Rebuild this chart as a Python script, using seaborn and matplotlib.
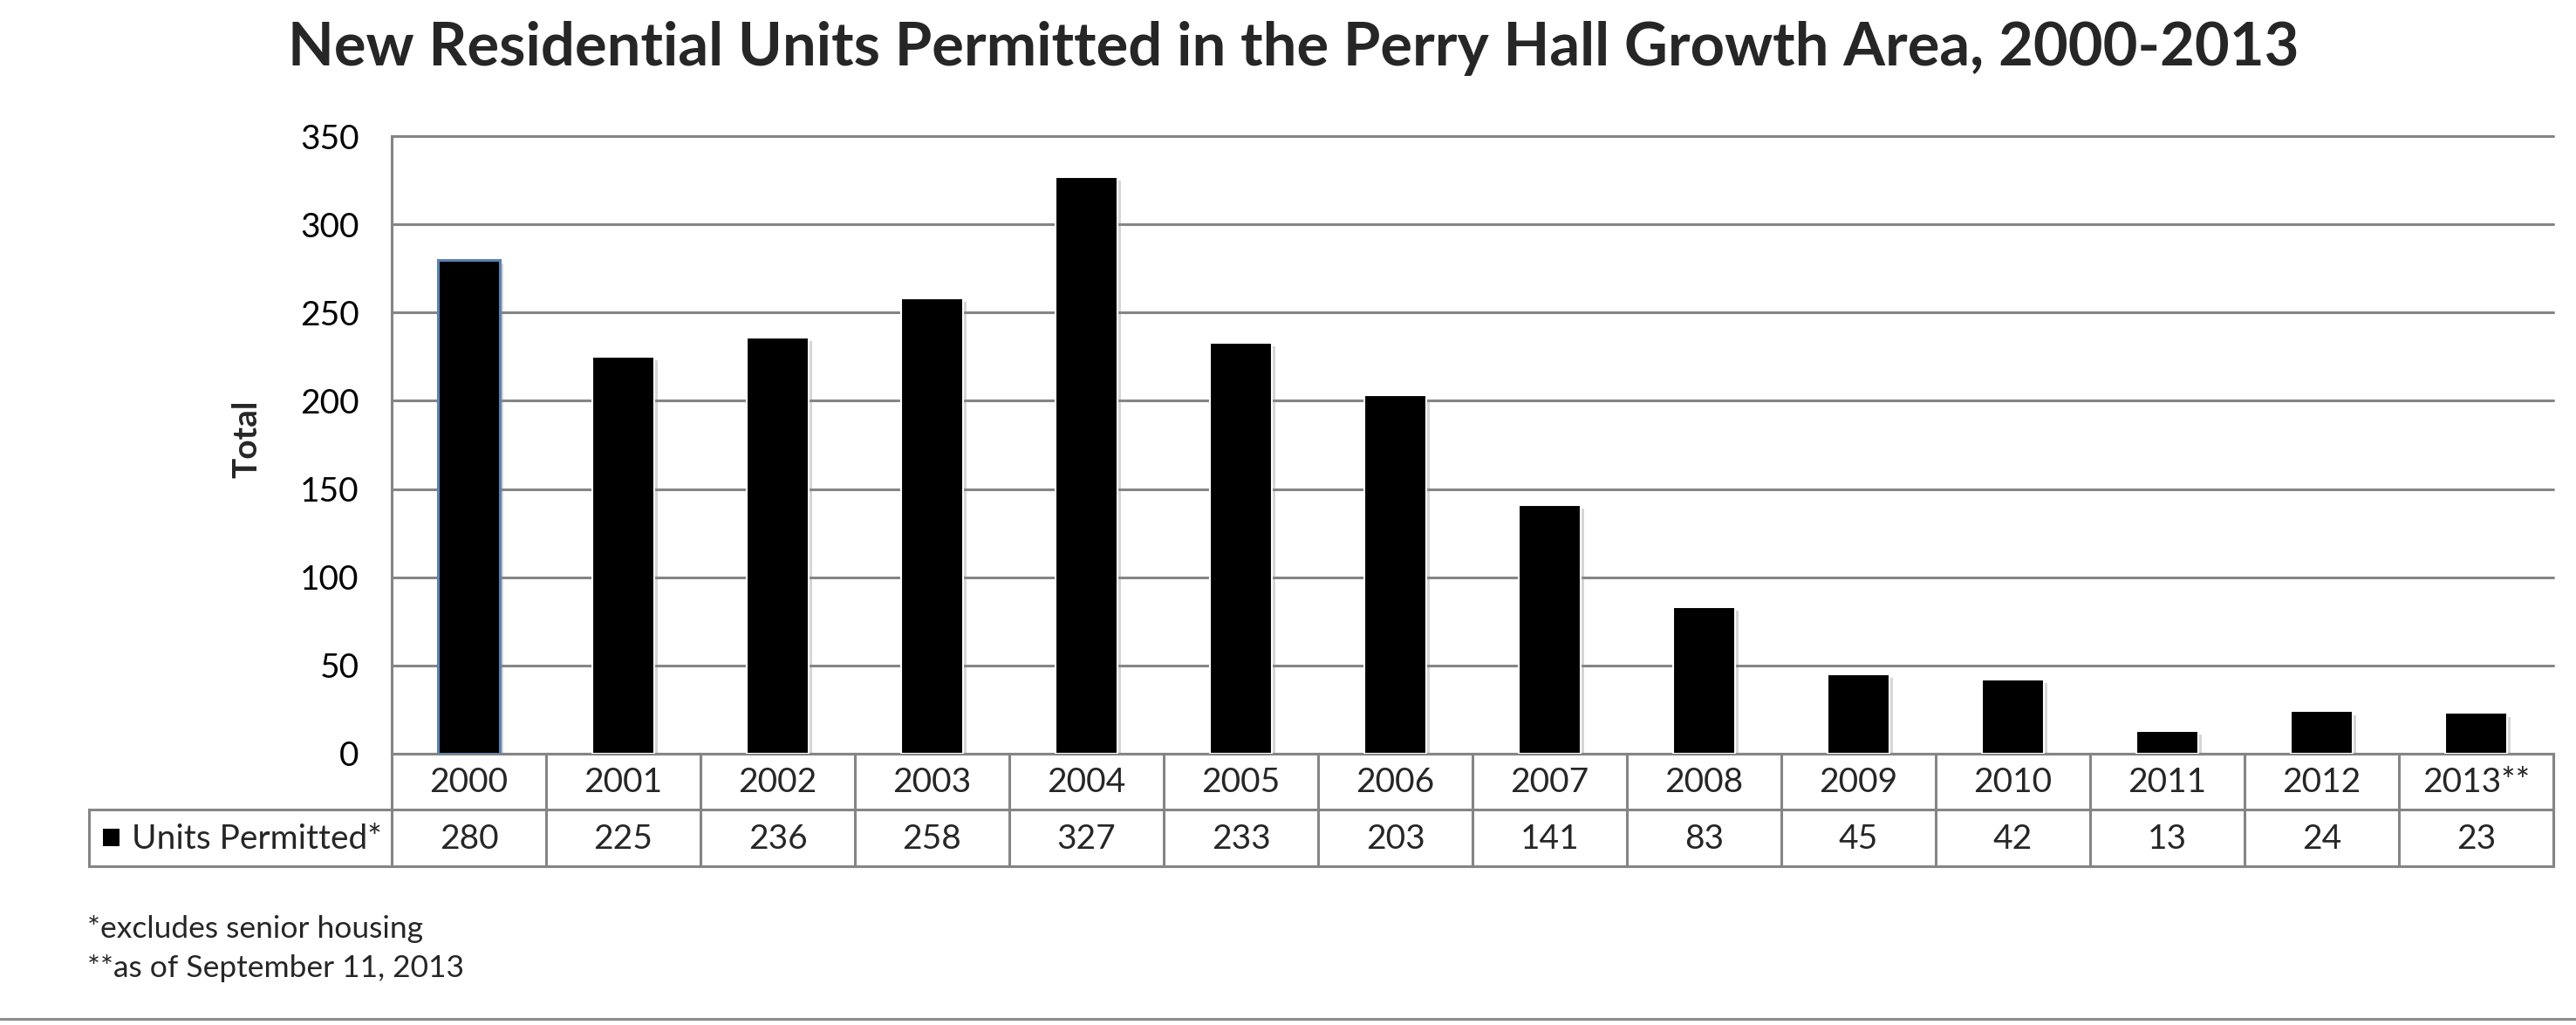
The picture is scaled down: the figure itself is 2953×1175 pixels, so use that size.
import matplotlib
matplotlib.use("Agg")
import matplotlib.pyplot as plt
import matplotlib.patheffects as pe
from matplotlib.patches import Rectangle
from matplotlib.lines import Line2D
import seaborn as sns
import pandas as pd

# ---- data ----
years = ["2000", "2001", "2002", "2003", "2004", "2005", "2006",
         "2007", "2008", "2009", "2010", "2011", "2012", "2013**"]
units = [280, 225, 236, 258, 327, 233, 203, 141, 83, 45, 42, 13, 24, 23]
series_name = "Units Permitted*"
y_ticks = [0, 50, 100, 150, 200, 250, 300, 350]
title = "New Residential Units Permitted in the Perry Hall Growth Area, 2000-2013"
y_label = "Total"
footnotes = ["*excludes senior housing", "**as of September 11, 2013"]

df = pd.DataFrame({"year": years, "units": units})

sns.set_style("white")
plt.rcParams["font.family"] = ["Lato", "DejaVu Sans"]

W, H = 2953, 1175
DPI = 100
fig = plt.figure(figsize=(W / DPI, H / DPI), dpi=DPI)

# axes placement in pixels
ax_l, ax_r, ax_t, ax_b = 449, 2927, 156, 864
ax = fig.add_axes([ax_l / W, 1 - ax_b / H, (ax_r - ax_l) / W, (ax_b - ax_t) / H])

GRID = "#858585"
LW = 2.2
FS = 28

sns.barplot(data=df, x="year", y="units", color="black", saturation=1,
            width=0.40, edgecolor="white", linewidth=1.5, ax=ax, zorder=3)

for i, p in enumerate(ax.patches):
    p.set_facecolor("black")
    p.set_path_effects([pe.SimplePatchShadow(offset=(3, -3), shadow_rgbFace="0.55", alpha=0.35),
                        pe.Normal()])
    if i == 0:
        p.set_edgecolor("#5B82B0")
        p.set_linewidth(2.2)

ax.set_xlim(-0.5, len(years) - 0.5)
ax.set_ylim(0, 350)
ax.set_yticks(y_ticks)
ax.set_yticklabels([str(v) for v in y_ticks])
ax.tick_params(axis="y", length=0, pad=27, labelsize=FS, colors="black")
ax.set_xticks([])
ax.set_xlabel("")
ax.set_ylabel("")

ax.set_axisbelow(True)
ax.yaxis.grid(True, color=GRID, linewidth=LW)
for gl in ax.get_ygridlines():
    gl.set_clip_on(False)
ax.xaxis.grid(False)

for s in ["top", "right"]:
    ax.spines[s].set_visible(False)
for s in ["left", "bottom"]:
    ax.spines[s].set_color(GRID)
    ax.spines[s].set_linewidth(LW)

# ---- data table below the axis ----
axh = ax_b - ax_t
axw = ax_r - ax_l
def ay(px):
    return -(px - ax_b) / axh
def axx(px):
    return (px - ax_l) / axw

row1_bot = ay(928)
row2_bot = ay(993)
head_left = axx(102)
tr = ax.get_xaxis_transform()

line_kw = dict(color=GRID, linewidth=LW, clip_on=False, solid_capstyle="projecting")
ax.plot([head_left, 1.0], [row1_bot, row1_bot], transform=ax.transAxes, **line_kw)
ax.plot([head_left, 1.0], [row2_bot, row2_bot], transform=ax.transAxes, **line_kw)
ax.plot([head_left, head_left], [row1_bot, row2_bot], transform=ax.transAxes, **line_kw)
for i in range(len(years) + 1):
    ax.plot([i - 0.5, i - 0.5], [0, row2_bot], transform=tr, **line_kw)

for i, (yr, v) in enumerate(zip(years, units)):
    ax.text(i, ay(908), yr, transform=tr, ha="center", va="baseline",
            fontsize=FS, clip_on=False)
    ax.text(i, ay(973), str(v), transform=tr, ha="center", va="baseline",
            fontsize=FS, clip_on=False)

# legend key + series name
ax.add_patch(Rectangle((axx(118), ay(970)), 19 / axw, 20 / axh,
                       transform=ax.transAxes, facecolor="black",
                       edgecolor="none", clip_on=False))
ax.text(axx(151), ay(973), series_name, transform=ax.transAxes,
        ha="left", va="baseline", fontsize=FS, clip_on=False)

# ---- titles and notes ----
fig.text(0.502, 1 - 75 / H, title, ha="center", va="baseline",
         fontsize=49.5, fontweight="bold")
fig.text(283 / W, 1 - 503 / H, y_label, rotation=90, ha="center", va="center",
         fontsize=28, fontweight="bold")
fig.text(100 / W, 1 - 1075 / H, footnotes[0], ha="left", va="baseline", fontsize=25.5)
fig.text(100 / W, 1 - 1120 / H, footnotes[1], ha="left", va="baseline", fontsize=25.5)

fig.add_artist(Line2D([0, 1], [1 - 1168 / H, 1 - 1168 / H],
                      transform=fig.transFigure, color="#8c8c8c", linewidth=2.2))

fig.savefig("out.png", dpi=DPI, facecolor="white")
